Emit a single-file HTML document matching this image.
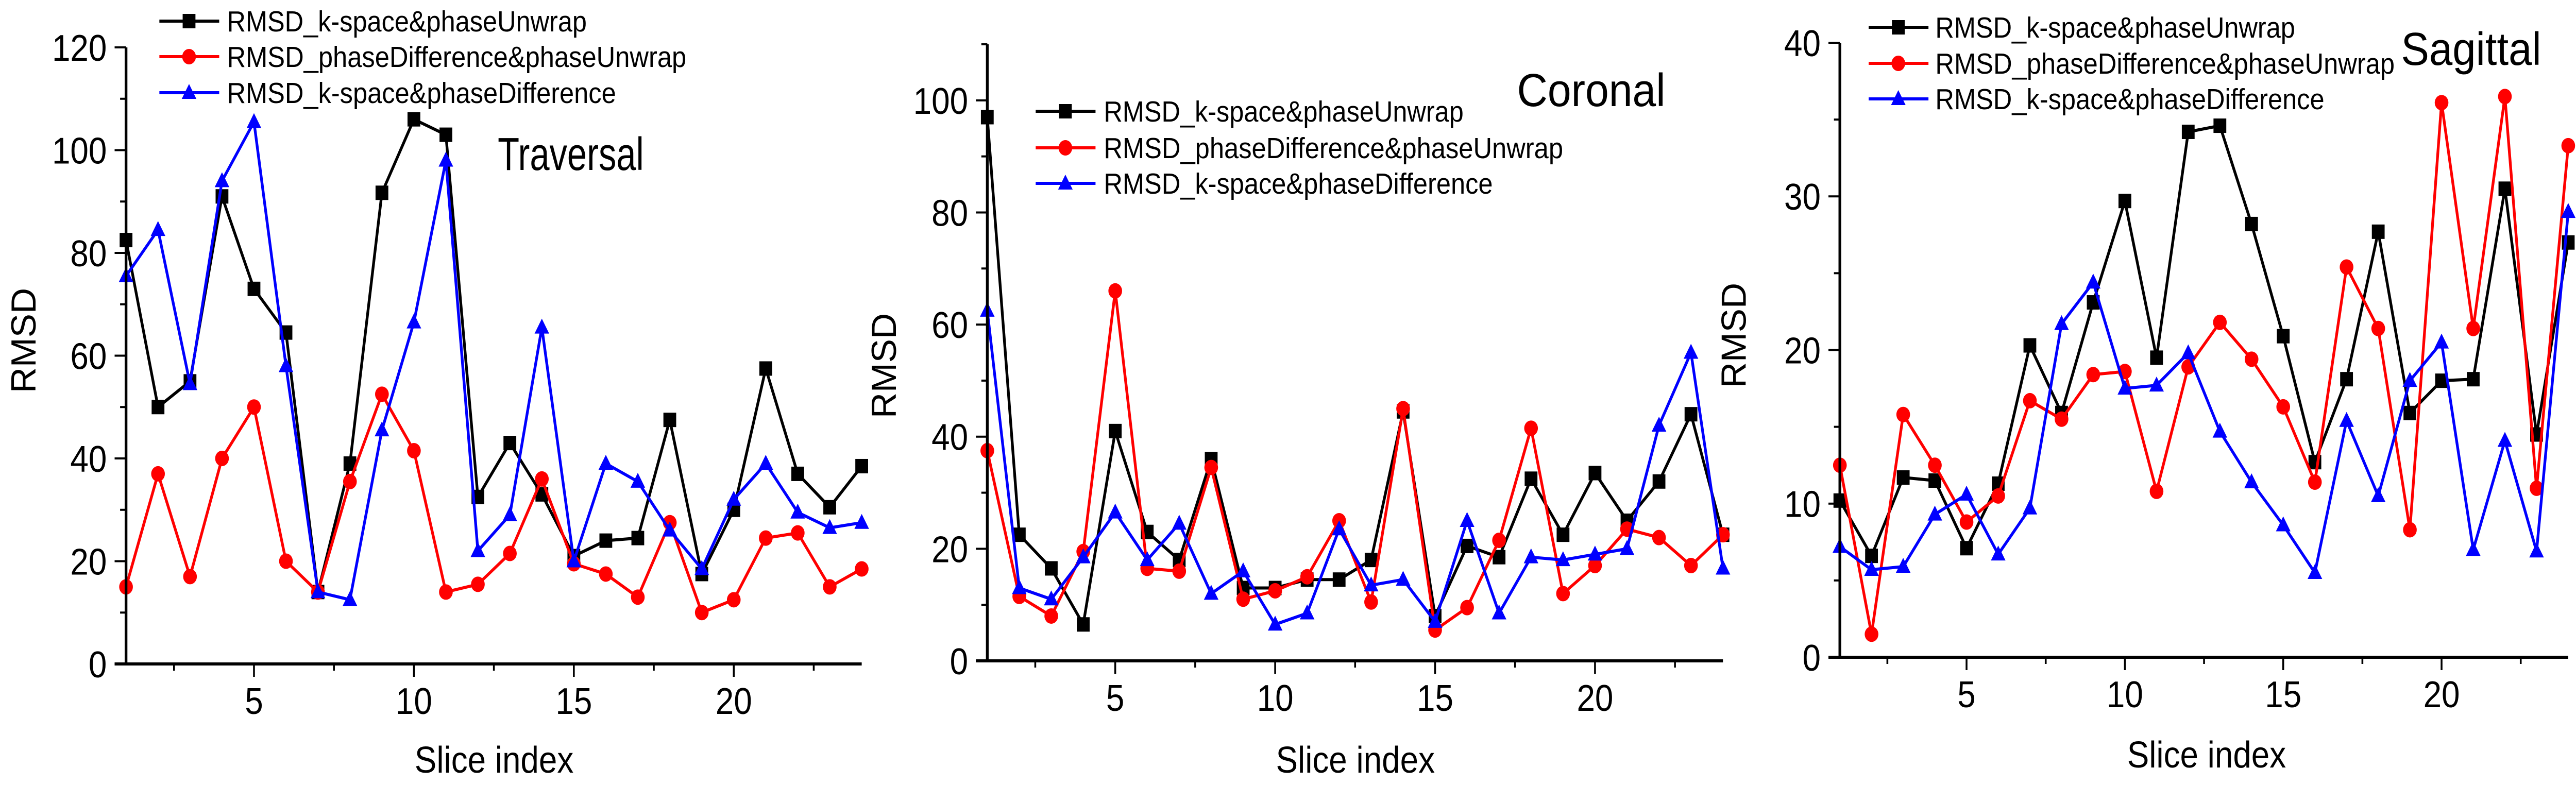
<!DOCTYPE html>
<html><head><meta charset="utf-8"><style>
html,body{margin:0;padding:0;background:#fff;overflow:hidden;width:100%;height:100%;}
svg{display:block;overflow:hidden;width:100vw;height:100vh;font-family:"Liberation Sans",sans-serif;}
</style></head><body>
<svg id="fig" viewBox="0 0 5641 1524" preserveAspectRatio="none" xmlns="http://www.w3.org/2000/svg"></svg>
<script>
const sliceIndex = [1,2,3,4,5,6,7,8,9,10,11,12,13,14,15,16,17,18,19,20,21,22,23,24];
const travKU = [82.5,50,55,91,73,64.5,14,39,91.7,106,103,32.5,43,33,21,24,24.5,47.5,17.5,30,57.5,37,30.5,38.5];
const travPU = [15,37,17,40,50,20,14,35.5,52.5,41.5,14,15.5,21.5,36,19.5,17.5,13,27.5,10,12.5,24.5,25.5,15,18.5];
const travKP = [75.5,84.5,54.5,94,105.5,58,14,12.5,45.5,66.5,98,22,29,65.5,20,39,35.5,26,18.5,32,39,29.5,26.5,27.5];
const corKU = [97,22.5,16.5,6.5,41,23,18,36,13,13,14.5,14.5,18,44.5,8,20.5,18.5,32.5,22.5,33.5,25,32,44,22.5];
const corPU = [37.5,11.5,8,19.5,66,16.5,16,34.5,11,12.5,15,25,10.5,45,5.5,9.5,21.5,41.5,12,17,23.5,22,17,22.5];
const corKP = [62.5,13,11,18.5,26.5,18,24.5,12,16,6.5,8.5,23.5,13.5,14.5,7,25,8.5,18.5,18,19,20,42,55,16.5];
const sagKU = [10.2,6.6,11.7,11.5,7.1,11.3,20.3,15.9,23.1,29.7,19.5,34.2,34.6,28.2,20.9,12.7,18.1,27.7,15.9,18,18.1,30.5,14.5,27];
const sagPU = [12.5,1.5,15.8,12.5,8.8,10.5,16.7,15.5,18.4,18.6,10.8,18.9,21.8,19.4,16.3,11.4,25.4,21.4,8.3,36.1,21.4,36.5,11,33.3];
const sagKP = [7.2,5.7,5.9,9.3,10.6,6.7,9.7,21.7,24.4,17.5,17.7,19.8,14.7,11.4,8.6,5.5,15.4,10.5,18,20.5,7,14.1,6.9,29];
const xTickLabels = [5,10,15,20];
const travYTicks = [0,20,40,60,80,100,120];
const corYTicks = [0,20,40,60,80,100];
const sagYTicks = [0,10,20,30,40];
const seriesNames = ["RMSD_k-space&phaseUnwrap","RMSD_phaseDifference&phaseUnwrap","RMSD_k-space&phaseDifference"];

const NS="http://www.w3.org/2000/svg";
const svg=document.getElementById('fig');
function mk(tag,attrs,parent){const e=document.createElementNS(NS,tag);for(const k in attrs)e.setAttribute(k,attrs[k]);(parent||svg).appendChild(e);return e;}

const panels=[
 {key:'traversal',title:'Traversal',x0:276,x1:1887,y0:1289,yTop:92,ymax:120,minor:10,ticks:travYTicks,data:[travKU,travPU,travKP],
  leg:{lx:349,tx:497,rows:[41,110,180]},titleX:1090,titleY:330,titleW:320,ylabX:51,ylabY:661,xlabX:1082,xlabY:1500},
 {key:'coronal',title:'Coronal',x0:2162,x1:3773,y0:1283,yTop:86,ymax:110,minor:10,ticks:corYTicks,data:[corKU,corPU,corKP],
  leg:{lx:2268,tx:2417,rows:[216,287,356]},titleX:3322,titleY:206,titleW:325,ylabX:1935,ylabY:710,xlabX:2968,xlabY:1500},
 {key:'sagittal',title:'Sagittal',x0:4029,x1:5624,y0:1276,yTop:83,ymax:40,minor:5,ticks:sagYTicks,data:[sagKU,sagPU,sagKP],
  leg:{lx:4092,tx:4238,rows:[53,123,192]},titleX:5258,titleY:126,titleW:307,ylabX:3796,ylabY:651,xlabX:4832,xlabY:1490}
];
const colors=['#000000','#ff0000','#0000ff'];
const legW=[788,1006,852];

function marker(type,cx,cy,col,g){
  let m;
  if(type===0){m=mk('rect',{x:cx-14,y:cy-14,width:28,height:28,fill:col},g);}
  else if(type===1){m=mk('circle',{cx:cx,cy:cy,r:15,fill:col},g);}
  else{m=mk('polygon',{points:`${cx},${cy-17} ${cx-16},${cy+12} ${cx+16},${cy+12}`,fill:col},g);}
  
  
}

panels.forEach(p=>{
  const g=mk('g',{});
  
  
  const xs=v=>p.x0+(v-1)*(p.x1-p.x0)/23;
  const ys=v=>p.y0-v*(p.y0-p.yTop)/p.ymax;
  p.data.forEach((arr,si)=>{
    const sg=mk('g',{},g);
    
    
    const pts=arr.map((v,i)=>xs(sliceIndex[i])+','+ys(v)).join(' ');
    const pl=mk('polyline',{points:pts,fill:'none',stroke:colors[si],'stroke-width':6,'stroke-linejoin':'round'},sg);
    
    
    arr.forEach((v,i)=>marker(si,xs(sliceIndex[i]),ys(v),colors[si],sg));
  });
  const ya=mk('line',{x1:p.x0,y1:p.yTop,x2:p.x0,y2:p.y0+3,stroke:'#000','stroke-width':6},g);
  
  const xa=mk('line',{x1:p.x0-25,y1:p.y0,x2:p.x1,y2:p.y0,stroke:'#000','stroke-width':6},g);
  
  for(let v=0;v<=p.ymax+0.001;v+=p.minor){
    const isMaj=p.ticks.indexOf(v)>=0;
    mk('line',{x1:p.x0-(isMaj?25:13),y1:ys(v),x2:p.x0,y2:ys(v),stroke:'#000','stroke-width':4},g);
  }
  p.ticks.forEach(v=>{
    const s=String(v);
    const t=mk('text',{x:p.x0-42,y:ys(v)+26,'font-size':72,'text-anchor':'end',fill:'#000'},g);
    t.textContent=s;
    
  });
  for(let v=2.5;v<=24;v+=2.5){
    const isMaj=(v%5===0);
    mk('line',{x1:xs(v),y1:p.y0,x2:xs(v),y2:p.y0+(isMaj?25:13),stroke:'#000','stroke-width':4},g);
  }
  xTickLabels.forEach(v=>{
    const s=String(v);
    const t=mk('text',{x:xs(v),y:p.y0+97,'font-size':72,'text-anchor':'middle',fill:'#000'},g);
    t.textContent=s;
    
  });
  const xl=mk('text',{x:p.xlabX,y:p.xlabY,'font-size':72,'text-anchor':'middle',textLength:348,lengthAdjust:'spacingAndGlyphs',fill:'#000'},g);
  xl.textContent='Slice index';
  
  const yl=mk('text',{x:0,y:0,'font-size':76,'text-anchor':'middle',transform:`translate(${p.ylabX+27},${p.ylabY}) rotate(-90)`,textLength:204,lengthAdjust:'spacingAndGlyphs',fill:'#000'},g);
  yl.textContent='RMSD';
  
  const tt=mk('text',{x:p.titleX,y:p.titleY,'font-size':90,textLength:p.titleW,lengthAdjust:'spacingAndGlyphs',fill:'#000'},g);
  tt.textContent=p.title;
  
  seriesNames.forEach((n,si)=>{
    const lg=mk('g',{},g);
    
    
    const ry=p.leg.rows[si];
    mk('line',{x1:p.leg.lx,y1:ry,x2:p.leg.lx+131,y2:ry,stroke:colors[si],'stroke-width':6},lg);
    marker(si,p.leg.lx+65,ry,colors[si],lg);
    const t=mk('text',{x:p.leg.tx,y:ry+20,'font-size':57,textLength:legW[si],lengthAdjust:'spacingAndGlyphs',fill:'#000'},lg);
    t.textContent=n;
  });
});
</script>
</body></html>
